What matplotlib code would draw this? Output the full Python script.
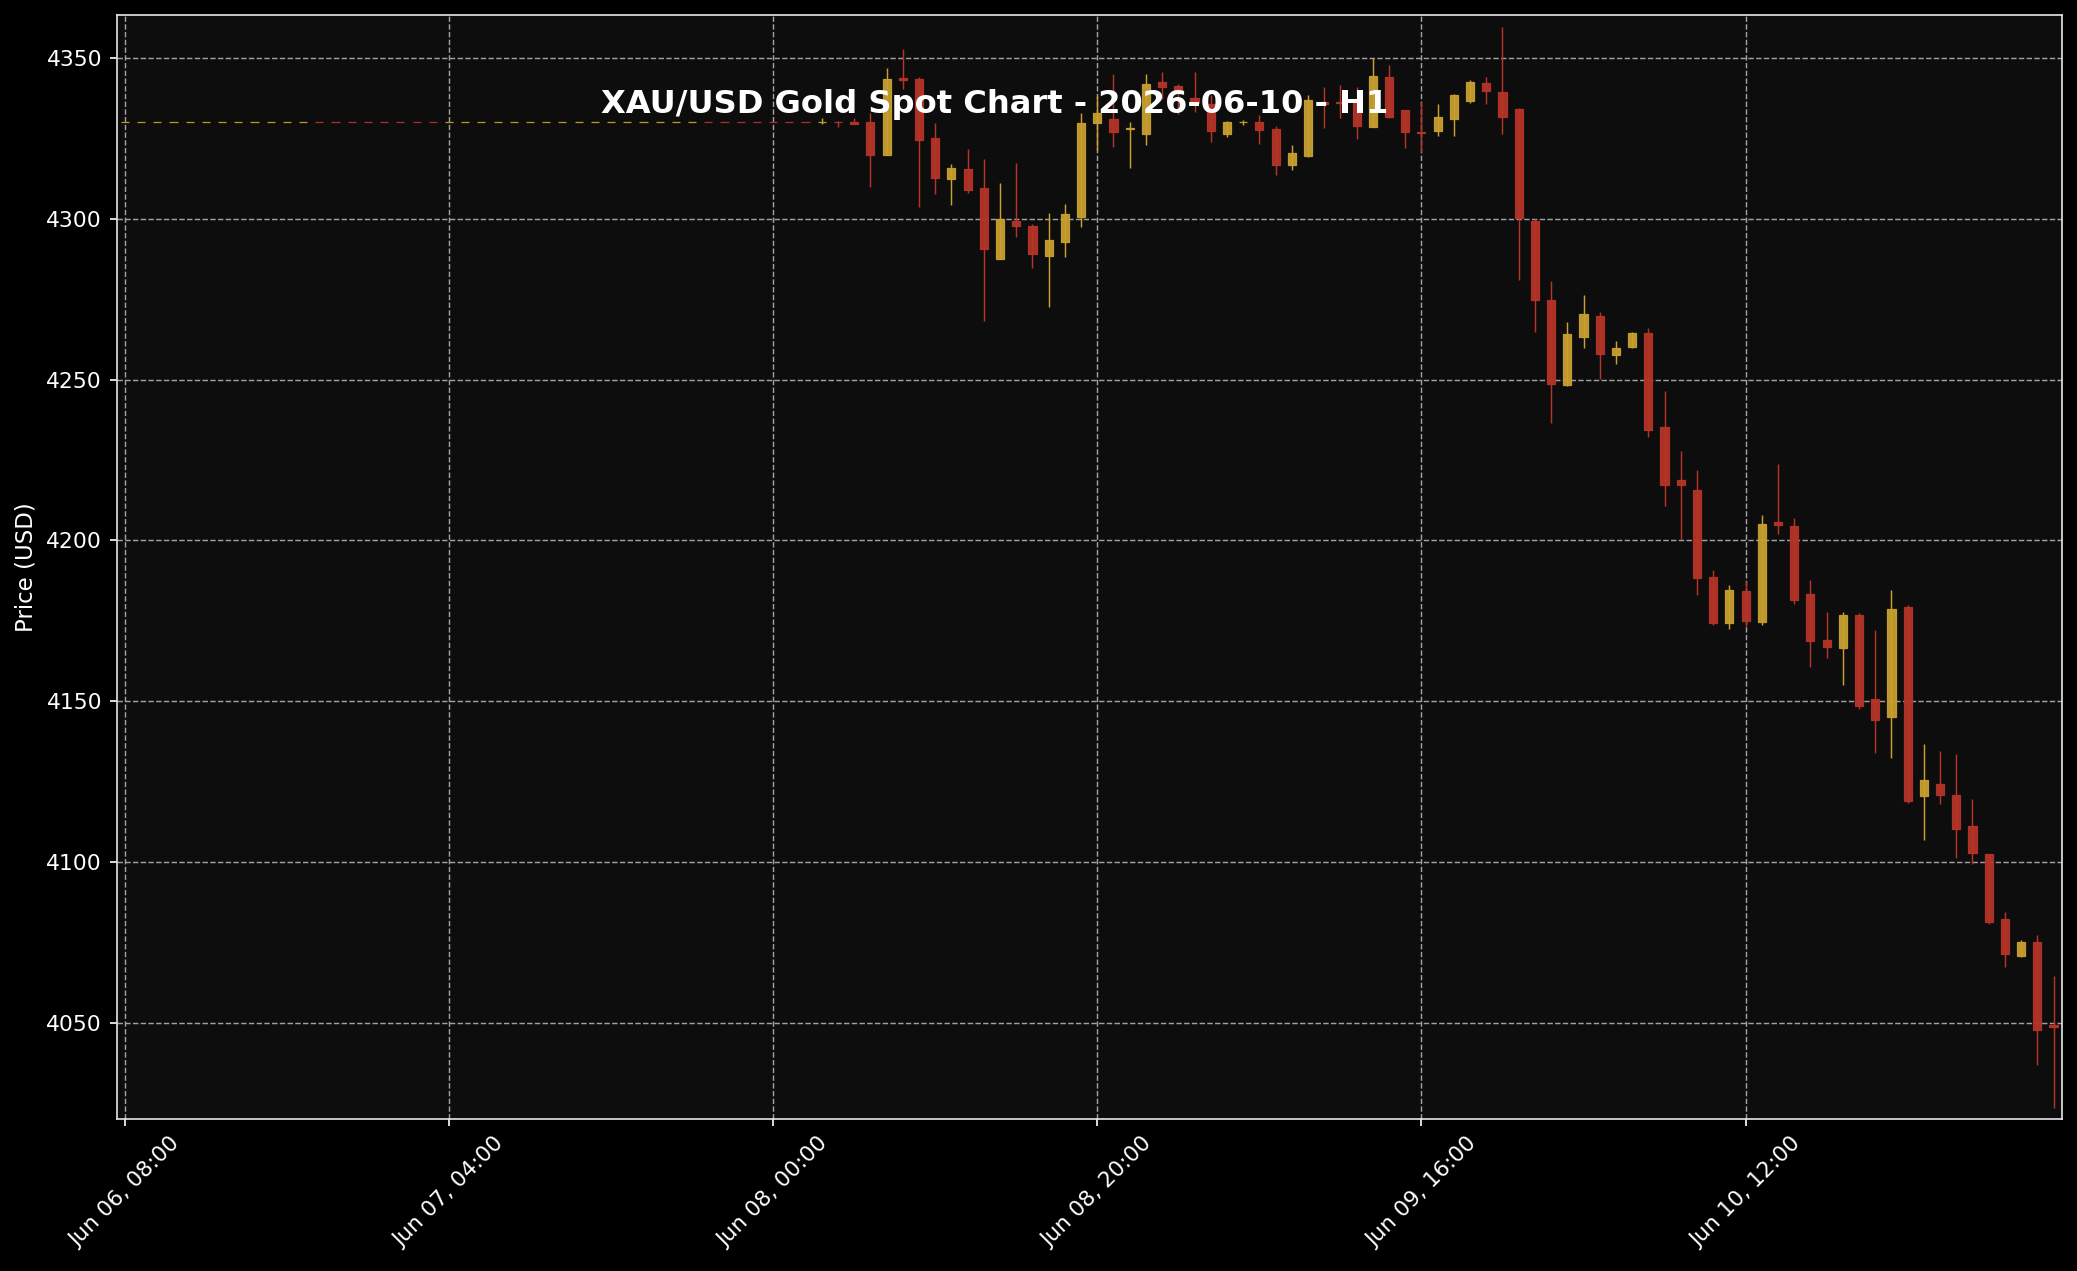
import pandas as pd
import matplotlib
matplotlib.use("Agg")
from matplotlib import pyplot as plt
import matplotlib.dates as mdates
from matplotlib.patches import Rectangle

# hourly candles, first one at 2026-06-06 08:00
start_time = "2026-06-06 08:00"

opens = [
    4330.0, 4330.0, 4330.0, 4330.0, 4330.0, 4330.0, 4330.0, 4330.0, 4330.0, 4330.0,
    4330.0, 4330.0, 4330.1, 4330.1, 4330.1, 4330.1, 4330.1, 4330.1, 4330.1, 4330.1,
    4330.0, 4330.0, 4330.0, 4330.0, 4330.0, 4330.0, 4330.0, 4330.0, 4330.0, 4330.0,
    4330.0, 4330.0, 4330.0, 4330.0, 4330.0, 4330.0, 4330.1, 4330.1, 4330.1, 4330.1,
    4330.1, 4330.1, 4330.1, 4330.0, 4330.1, 4330.0, 4330.0, 4320.0, 4343.8, 4343.5,
    4325.1, 4312.4, 4315.5, 4309.6, 4287.6, 4299.2, 4297.8, 4288.5, 4292.9, 4300.7,
    4329.9, 4331.0, 4328.0, 4326.5, 4342.5, 4341.3, 4337.5, 4335.6, 4326.5, 4330.0,
    4330.1, 4327.9, 4316.7, 4319.5, 4336.2, 4336.3, 4336.1, 4328.7, 4344.1, 4333.8,
    4327.0, 4327.4, 4331.1, 4336.7, 4342.2, 4339.4, 4334.2, 4299.4, 4274.8, 4248.2,
    4263.4, 4269.8, 4257.8, 4260.0, 4264.5, 4235.3, 4218.9, 4215.8, 4188.5, 4174.3,
    4184.1, 4174.6, 4205.8, 4204.6, 4183.2, 4168.9, 4166.6, 4176.9, 4150.5, 4145.0,
    4179.2, 4120.5, 4124.1, 4120.7, 4111.1, 4102.3, 4082.1, 4070.6, 4075.1, 4049.4,
]
highs = [
    4330.0, 4330.0, 4330.0, 4330.0, 4330.0, 4330.0, 4330.0, 4330.0, 4330.0, 4330.0,
    4330.0, 4330.0, 4330.1, 4330.1, 4330.1, 4330.1, 4330.1, 4330.1, 4330.1, 4330.1,
    4330.0, 4330.0, 4330.0, 4330.0, 4330.0, 4330.0, 4330.0, 4330.0, 4330.0, 4330.0,
    4330.0, 4330.0, 4330.0, 4330.0, 4330.0, 4330.0, 4330.1, 4330.1, 4330.1, 4330.1,
    4330.1, 4330.1, 4330.1, 4331.5, 4330.5, 4331.3, 4332.8, 4347.0, 4352.7, 4344.0,
    4329.9, 4317.0, 4321.8, 4318.5, 4311.2, 4317.3, 4298.3, 4301.9, 4304.5, 4332.8,
    4338.2, 4345.2, 4330.2, 4345.2, 4345.8, 4342.0, 4345.8, 4338.5, 4330.4, 4330.8,
    4332.2, 4328.9, 4322.9, 4338.4, 4340.9, 4341.5, 4340.9, 4349.9, 4348.0, 4334.0,
    4336.4, 4335.8, 4338.8, 4343.1, 4344.0, 4359.7, 4334.4, 4300.0, 4280.8, 4267.9,
    4276.3, 4270.9, 4262.0, 4264.8, 4266.0, 4246.3, 4227.7, 4221.8, 4190.7, 4186.1,
    4187.5, 4207.8, 4223.6, 4206.8, 4187.6, 4177.6, 4177.7, 4177.3, 4172.1, 4184.5,
    4179.8, 4136.5, 4134.4, 4133.4, 4119.6, 4102.5, 4084.5, 4075.8, 4077.3, 4064.5,
]
lows = [
    4330.0, 4330.0, 4330.0, 4330.0, 4330.0, 4330.0, 4330.0, 4330.0, 4330.0, 4330.0,
    4330.0, 4330.0, 4330.0, 4330.0, 4330.0, 4330.0, 4330.0, 4330.0, 4330.0, 4330.0,
    4330.0, 4330.0, 4330.0, 4330.0, 4330.0, 4330.0, 4330.0, 4330.0, 4330.0, 4330.0,
    4330.0, 4330.0, 4330.0, 4330.0, 4330.0, 4330.0, 4330.0, 4330.0, 4330.0, 4330.0,
    4330.0, 4330.0, 4330.0, 4329.5, 4328.5, 4329.5, 4309.8, 4319.8, 4340.3, 4303.6,
    4307.6, 4304.2, 4308.0, 4268.3, 4287.5, 4294.5, 4284.6, 4272.5, 4288.1, 4297.6,
    4321.4, 4322.3, 4315.7, 4322.9, 4337.3, 4332.5, 4333.3, 4324.0, 4325.4, 4329.3,
    4323.3, 4313.5, 4315.1, 4319.3, 4328.2, 4331.3, 4324.7, 4328.5, 4331.3, 4322.0,
    4320.7, 4325.8, 4325.8, 4335.9, 4335.6, 4326.4, 4281.0, 4264.8, 4236.5, 4248.0,
    4259.8, 4250.2, 4254.8, 4259.8, 4232.1, 4210.7, 4200.5, 4182.9, 4173.8, 4172.5,
    4173.1, 4173.8, 4202.0, 4180.3, 4160.7, 4163.4, 4155.0, 4147.4, 4134.0, 4132.4,
    4118.4, 4106.8, 4117.9, 4101.3, 4099.2, 4080.8, 4067.4, 4070.5, 4036.8, 4023.3,
]
closes = [
    4330.0, 4330.0, 4330.0, 4330.0, 4330.0, 4330.0, 4330.0, 4330.0, 4330.0, 4330.0,
    4330.0, 4330.0, 4330.0, 4330.0, 4330.0, 4330.0, 4330.0, 4330.0, 4330.0, 4330.0,
    4330.0, 4330.0, 4330.0, 4330.0, 4330.0, 4330.0, 4330.0, 4330.0, 4330.0, 4330.0,
    4330.0, 4330.0, 4330.0, 4330.0, 4330.0, 4330.0, 4330.0, 4330.0, 4330.0, 4330.0,
    4330.0, 4330.0, 4330.0, 4330.1, 4330.0, 4329.6, 4320.0, 4343.5, 4343.2, 4324.5,
    4312.8, 4315.8, 4309.0, 4290.7, 4299.8, 4297.9, 4289.2, 4293.4, 4301.5, 4329.8,
    4332.9, 4327.1, 4328.4, 4341.9, 4341.1, 4339.3, 4335.9, 4327.4, 4330.1, 4330.2,
    4327.6, 4316.7, 4320.5, 4337.0, 4335.8, 4336.0, 4329.0, 4344.4, 4331.7, 4327.1,
    4326.8, 4331.7, 4338.5, 4342.5, 4339.8, 4331.7, 4300.4, 4274.6, 4248.7, 4264.2,
    4270.4, 4258.1, 4259.9, 4264.5, 4234.4, 4217.3, 4217.1, 4188.3, 4174.3, 4184.4,
    4174.9, 4205.2, 4204.7, 4181.4, 4168.6, 4166.9, 4176.9, 4148.4, 4144.1, 4178.5,
    4119.0, 4125.3, 4120.8, 4110.1, 4102.6, 4081.2, 4071.3, 4075.1, 4047.7, 4048.7,
]

title = "XAU/USD Gold Spot Chart - 2026-06-10 - H1"
up_color = "#C8A030"
down_color = "#B53428"


def plot_candles(ax, times, o, h, l, c):
    x = mdates.date2num(times)
    width = 0.5 / 24
    for xi, oi, hi, li, ci in zip(x, o, h, l, c):
        color = up_color if ci >= oi else down_color
        ax.vlines(xi, li, hi, color=color, linewidth=0.7, zorder=2)
        bottom = min(oi, ci)
        height = abs(ci - oi)
        ax.add_patch(Rectangle((xi - width / 2, bottom), width, height,
                               facecolor=color, edgecolor=color,
                               linewidth=0.6, alpha=0.95, zorder=3))
    return x


times = pd.date_range(start_time, periods=len(closes), freq="h")

fig = plt.figure(figsize=(2077 / 150, 1271 / 150), dpi=150, facecolor="black")
ax = fig.add_axes([0.0562, 0.1194, 0.9926 - 0.0562, 0.9882 - 0.1194])
ax.set_facecolor("#0d0d0d")

x = plot_candles(ax, times, opens, highs, lows, closes)

ax.set_xlim(x[0] - 0.5 / 24, x[-1] + 0.5 / 24)
span = max(highs) - min(lows)
ax.set_ylim(min(lows) - 0.01 * span, max(highs) + 0.011 * span)

ax.set_xticks(x[::20])
ax.xaxis.set_major_formatter(mdates.DateFormatter("%b %d, %H:%M"))
plt.setp(ax.get_xticklabels(), rotation=45, ha="center")
ax.tick_params(colors="white", labelsize=10.5)
for spine in ax.spines.values():
    spine.set_color("#e6e6e6")

ax.grid(True, color="#a0a0a0", linestyle="--", linewidth=0.7, zorder=0)
ax.set_axisbelow(True)
ax.set_ylabel("Price (USD)", color="white", fontsize=11)

fig.text(0.4787, 1 - 112.7 / 1271, title, color="white", fontsize=15.4,
         fontweight="bold", ha="center", va="baseline", zorder=10)

fig.savefig("out.png", dpi=150, facecolor="black")
